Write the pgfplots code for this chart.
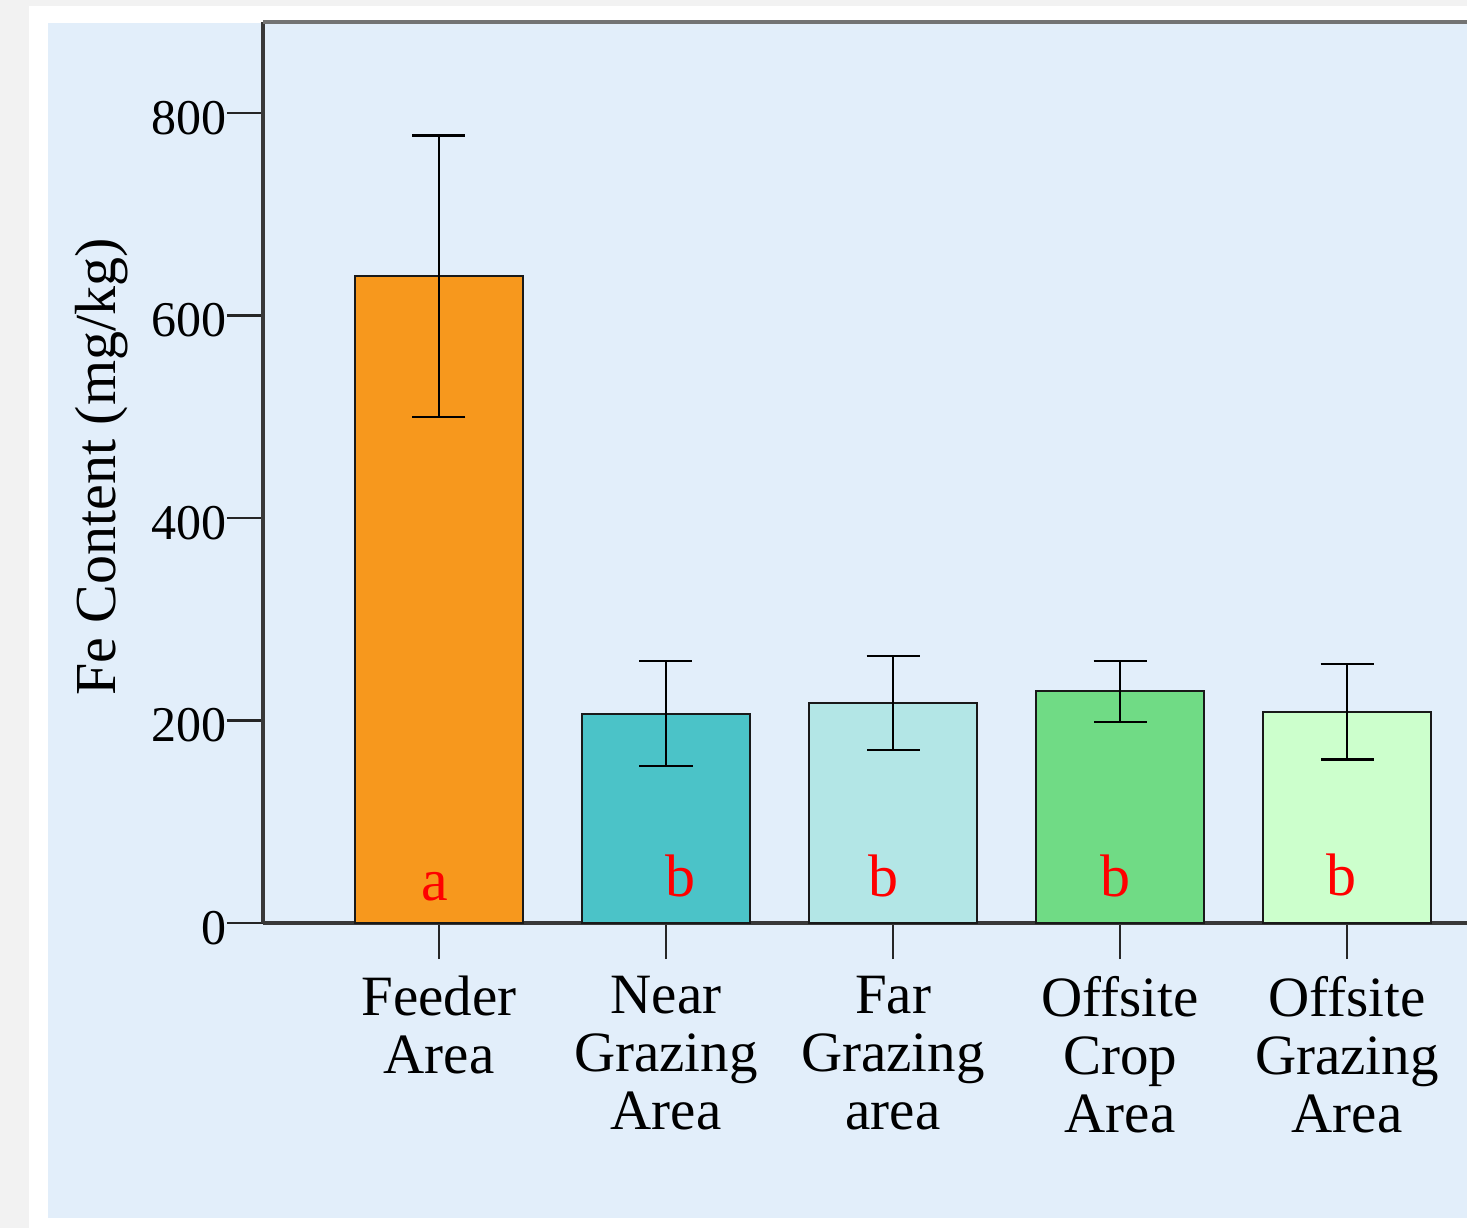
\documentclass[border=0pt]{standalone}
\usepackage{pgfplots}
\pgfplotsset{compat=1.18}
\usepackage{fontspec}
\setmainfont{Liberation Serif}
\definecolor{bgray}{HTML}{F2F2F2}
\definecolor{panel}{HTML}{E2EEFA}
\definecolor{cOrange}{HTML}{F7981D}
\definecolor{cTeal}{HTML}{4BC3C8}
\definecolor{cLTeal}{HTML}{B3E6E6}
\definecolor{cGreen}{HTML}{70DB85}
\definecolor{cLGreen}{HTML}{CCFFCC}
\begin{document}
\begin{tikzpicture}
\useasboundingbox (-131.5pt,-152.5pt) rectangle (602pt,461.5pt);
\fill[bgray] (-131.5pt,-152.5pt) rectangle (602pt,461.5pt);
\fill[white] (-117pt,-152.5pt) rectangle (602pt,458.5pt);
\fill[panel] (-107.5pt,-147.5pt) rectangle (602pt,450pt);
\begin{axis}[
  at={(0pt,0pt)}, anchor=south west,
  scale only axis, width=602pt, height=450.5pt,
  xmin=-0.7753, xmax=4.5286, ymin=0, ymax=890,
  clip=false,
  axis x line*=bottom, axis y line*=left,
  axis line style={-, line width=1.6pt, black!78},
  tick align=outside, major tick length=18pt,
  tick style={line width=1.3pt, black!85},
  xtick={0,1,2,3,4},
  xticklabels={{Feeder\\Area},{Near\\Grazing\\Area},{Far\\Grazing\\area},{Offsite\\Crop\\Area},{Offsite\\Grazing\\Area}},
  xticklabel style={font=\fontsize{28.5}{29}\selectfont, align=center, inner sep=0pt, yshift=-8.5pt},
  ytick={0,200,400,600,800},
  /pgf/number format/assume math mode=true,
  yticklabel style={font=\fontsize{25}{25}\selectfont, inner sep=0pt, yshift=-2.5pt},
  ylabel={Fe Content (mg/kg)},
  every axis y label/.style={at={(axis description cs:-0.1229,0.506)}, rotate=90, anchor=base, font=\fontsize{29}{29}\selectfont},
  barstyle/.style={ybar, bar width=84pt, bar shift=0pt, draw=black!90, line width=1pt,
    error bars/y dir=both, error bars/y explicit,
    error bars/error bar style={line width=1.2pt, black},
    error bars/error mark options={rotate=90, mark size=13.25pt, line width=1.2pt, black}},
]
\addplot[barstyle, fill=cOrange] coordinates {(0,639) += (0,139) -= (0,139)};
\addplot[barstyle, fill=cTeal] coordinates {(1,206.5) += (0,52.5) -= (0,51.5)};
\addplot[barstyle, fill=cLTeal] coordinates {(2,217.5) += (0,46.5) -= (0,46.5)};
\addplot[barstyle, fill=cGreen] coordinates {(3,228.8) += (0,30) -= (0,30.3)};
\addplot[barstyle, fill=cLGreen] coordinates {(4,208.7) += (0,47.1) -= (0,47)};
\draw[line width=1.6pt, black!55] (rel axis cs:0,1) -- (rel axis cs:1,1);
\node[text=red, font=\fontsize{30}{30}\selectfont, anchor=base] at (axis cs:-0.02,22.7) {a};
\node[text=red, font=\fontsize{30}{30}\selectfont, anchor=base] at (axis cs:1.062,25.7) {b};
\node[text=red, font=\fontsize{30}{30}\selectfont, anchor=base] at (axis cs:1.960,25.7) {b};
\node[text=red, font=\fontsize{30}{30}\selectfont, anchor=base] at (axis cs:2.978,25.7) {b};
\node[text=red, font=\fontsize{30}{30}\selectfont, anchor=base] at (axis cs:3.974,26.7) {b};
\end{axis}
\end{tikzpicture}
\end{document}
